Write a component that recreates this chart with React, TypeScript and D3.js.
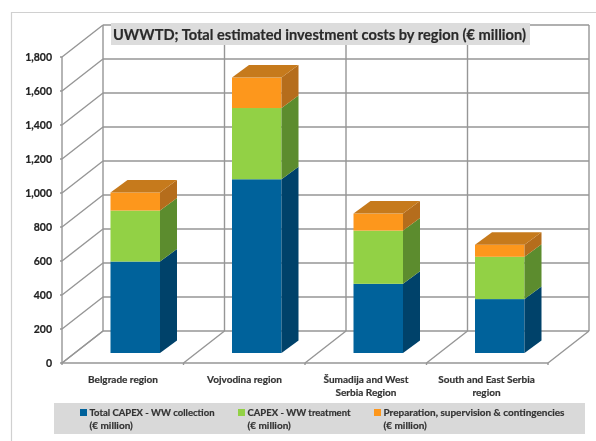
import React from "react";
import * as d3 from "d3";

const categories = ["Belgrade region", "Vojvodina region", "Šumadija and West Serbia Region", "South and East Serbia region"];
const categoryLines = [["Belgrade region"], ["Vojvodina region"], ["Šumadija and West", "Serbia Region"], ["South and East Serbia", "region"]];
const collection = [538, 1022, 407, 317];
const treatment = [300, 419, 313, 249];
const preparation = [106, 179, 100, 71];
const yTicks = [0, 200, 400, 600, 800, 1000, 1200, 1400, 1600, 1800];
const title = "UWWTD; Total estimated investment costs by region (€ million)";
const legendLabels = ["Total CAPEX - WW collection", "CAPEX - WW treatment", "Preparation,  supervision & contingencies"];
const legendUnit = "(€ million)";

const seriesColors = [
  { front: "#00629b", side: "#00426b" },
  { front: "#92d144", side: "#5b8c2f" },
  { front: "#fd971f", side: "#b56d1a" },
];
const topColor = "#c67a1e";
const legendX = [80, 238, 374];
const legendWidths = [125, 103, 181];

const font = "Lato, Carlito, Calibri, sans-serif";
const y = d3.scaleLinear().domain([0, 1800]).range([363, 57]);
const x = d3.scaleBand().domain(categories).range([62, 548]);
const wallDx = 41, wallDy = -32;
const barDx = 17, barDy = -12.5, barBase = -10;
const gridColor = "#969696";
const gridWidth = 1.4;
const textStroke = { stroke: "currentColor", strokeWidth: 0.2 };

export default function App() {
  const stacks = d3.stack<number>().keys(["0", "1", "2"]).value((_, k) => [collection, treatment, preparation][+k][_])(categories.map((_, i) => i));
  const right = x.range()[1];
  return (
    <svg width={596} height={441} viewBox="0 0 596 441" style={{ position: "absolute", left: 0, top: 0, background: "#fff" }}>
      <defs>
        <filter id="soft" x="-2%" y="-2%" width="104%" height="104%">
          <feGaussianBlur stdDeviation="0.45" />
        </filter>
      </defs>
      <g filter="url(#soft)" fontFamily={font}>
        <path d="M11.5,441 V12.5 H596" fill="none" stroke="#d0d0d0" strokeWidth={1.2} />
        {yTicks.map((t) => (
          <g key={t} stroke={gridColor} fill="none" strokeWidth={gridWidth}>
            <line x1={62} y1={y(t)} x2={62 + wallDx} y2={y(t) + wallDy} />
            <line x1={62 + wallDx} y1={y(t) + wallDy} x2={right + wallDx} y2={y(t) + wallDy} />
            <line x1={60} y1={y(t)} x2={62} y2={y(t)} />
          </g>
        ))}
        <line x1={62} y1={y(0)} x2={62} y2={y(1800)} stroke={gridColor} strokeWidth={gridWidth} />
        {[...categories.map((c) => x(c)!), right].map((px, i) => (
          <g key={i} stroke={gridColor} strokeWidth={gridWidth}>
            <line x1={px + wallDx} y1={y(0) + wallDy} x2={px + wallDx} y2={y(1800) + wallDy} />
            <line x1={px} y1={y(0)} x2={px + wallDx} y2={y(0) + wallDy} />
            <line x1={px} y1={y(0)} x2={px} y2={y(0) + 2} />
          </g>
        ))}
        <line x1={62} y1={y(0)} x2={right} y2={y(0)} stroke={gridColor} strokeWidth={gridWidth} />

        <rect x={111} y={23} width={419} height={22} fill="#dcdcdc" />
        <text x={113} y={40} fontSize={15.6} fontWeight={700} fill="#2a2a2a" color="#2a2a2a" {...textStroke} textLength={413} lengthAdjust="spacingAndGlyphs">{title}</text>

        {categories.map((c, i) => {
          const x0 = x(c)! + 48.5;
          const x1 = x0 + 49.5;
          const yTop = y(stacks[2][i][1]) + barBase;
          return (
            <g key={c}>
              {stacks.map((s, k) => {
                const yb = y(s[i][0]) + barBase;
                const yt = y(s[i][1]) + barBase;
                return (
                  <g key={k}>
                    <rect x={x0} y={yt} width={x1 - x0} height={yb - yt} fill={seriesColors[k].front} />
                    <polygon points={`${x1},${yb} ${x1 + barDx},${yb + barDy} ${x1 + barDx},${yt + barDy} ${x1},${yt}`} fill={seriesColors[k].side} />
                  </g>
                );
              })}
              <polygon points={`${x0},${yTop} ${x1},${yTop} ${x1 + barDx},${yTop + barDy} ${x0 + barDx},${yTop + barDy}`} fill={topColor} />
            </g>
          );
        })}

        {yTicks.map((t) => (
          <text key={t} x={52} y={y(t) + 3.5} textAnchor="end" fontSize={10.5} fontWeight={700} fill="#222" color="#222" {...textStroke}>{d3.format(",")(t)}</text>
        ))}

        {categories.map((c, i) => (
          <text key={c} textAnchor="middle" fontSize={10} fontWeight={700} fill="#333" color="#333" {...textStroke}>
            {categoryLines[i].map((l, j) => (
              <tspan key={j} x={x(c)! + 61 + (i === 3 ? -1 : 0)} y={383 + j * 13}>{l}</tspan>
            ))}
          </text>
        ))}

        <rect x={54} y={403} width={531} height={31} fill="#d9d9d9" />
        {legendLabels.map((label, i) => (
          <g key={label}>
            <rect x={legendX[i]} y={409} width={7} height={7} fill={seriesColors[i].front} />
            <text x={legendX[i] + 9.5} y={415.5} fontSize={10} fontWeight={700} fill="#333" color="#333" {...textStroke} textLength={legendWidths[i]} lengthAdjust="spacingAndGlyphs">{label}</text>
            <text x={legendX[i] + 9.5} y={429} fontSize={10} fontWeight={700} fill="#333" color="#333" {...textStroke}>{legendUnit}</text>
          </g>
        ))}
      </g>
    </svg>
  );
}
